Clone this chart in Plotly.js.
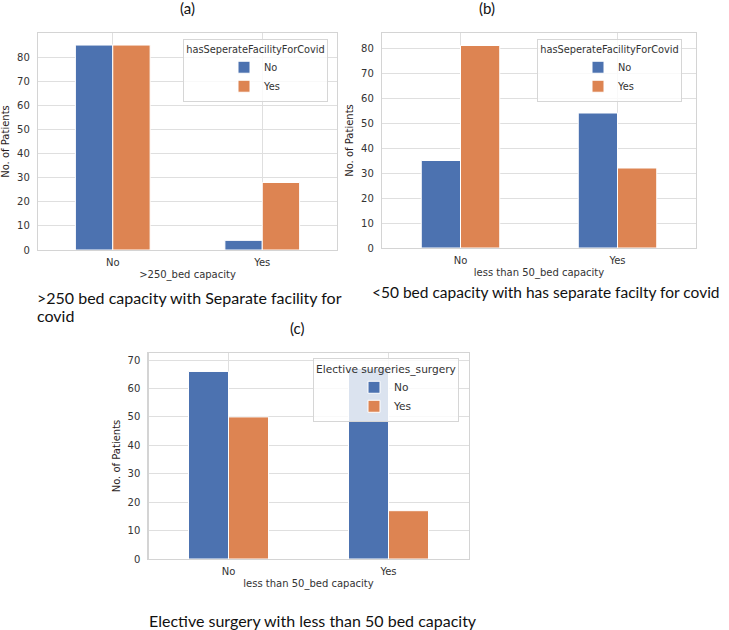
<!DOCTYPE html>
<html>
<head>
<meta charset="utf-8">
<script src="https://cdn.plot.ly/plotly-3.0.1.min.js"></script>
<style>html,body{margin:0;padding:0;background:#fff;}#chart{width:729px;height:630px;}</style>
</head>
<body>
<div id="chart"></div>
<script>
// ---- data ----
const categories = ["No", "Yes"];
const seriesNames = ["No", "Yes"];
// (a) >250 bed capacity vs hasSeperateFacilityForCovid
const aNo = [85, 4];
const aYes = [85, 28];
// (b) less than 50 bed capacity vs hasSeperateFacilityForCovid
const bNo = [35, 54];
const bYes = [81, 32];
// (c) less than 50 bed capacity vs Elective surgeries
const cNo = [66, 67];
const cYes = [50, 17];
const yTicksAB = [0, 10, 20, 30, 40, 50, 60, 70, 80];
const yTicksC = [0, 10, 20, 30, 40, 50, 60, 70];

const W = 729, H = 630;
const px = v => v / W;
const py = v => 1 - v / H;

const BLUE = "#4C72B0", ORANGE = "#DD8452";
const tickFont = {family: "DejaVu Sans", size: 10, color: "#333"};

function bar(x, y, name, color, xa, ya, leg) {
  return {type: "bar", x: x, y: y, name: name, xaxis: xa, yaxis: ya, legend: leg,
    marker: {color: color, line: {color: "#fff", width: 1}}, hoverinfo: "x+y+name"};
}

const data = [
  bar(categories, aNo, seriesNames[0], BLUE, "x", "y", "legend"),
  bar(categories, aYes, seriesNames[1], ORANGE, "x", "y", "legend"),
  bar(categories, bNo, seriesNames[0], BLUE, "x2", "y2", "legend2"),
  bar(categories, bYes, seriesNames[1], ORANGE, "x2", "y2", "legend2"),
  bar(categories, cNo, seriesNames[0], BLUE, "x3", "y3", "legend3"),
  bar(categories, cYes, seriesNames[1], ORANGE, "x3", "y3", "legend3")
];

function xax(d0, d1, anchor, title) {
  return {domain: [px(d0), px(d1)], anchor: anchor, type: "category",
    range: [-0.5, 1.5], showline: true, mirror: true, linecolor: "#d4d4d4", linewidth: 1.2,
    showgrid: true, gridcolor: "#dfdfdf", gridwidth: 1, zeroline: false,
    ticks: "outside", ticklen: 3, tickcolor: "rgba(0,0,0,0)", tickfont: tickFont,
    title: {text: title, font: {family: "DejaVu Sans", size: 10, color: "#333"}, standoff: 3},
    fixedrange: true};
}
function yax(d0, d1, anchor, range, tv) {
  return {domain: [py(d1), py(d0)], anchor: anchor, range: range, tickvals: tv,
    showline: true, mirror: true, linecolor: "#d4d4d4", linewidth: 1.2,
    showgrid: true, gridcolor: "#dfdfdf", gridwidth: 1, zeroline: false,
    ticks: "outside", ticklen: 5, tickcolor: "rgba(0,0,0,0)", tickfont: tickFont,
    title: {text: "No. of Patients", font: {family: "DejaVu Sans", size: 10, color: "#2a1c1c"}, standoff: 5},
    fixedrange: true};
}

function legend(x, y, title, fs) {
  return {x: px(x), y: py(y), xanchor: "left", yanchor: "top",
    bgcolor: "rgba(255,255,255,0.8)", bordercolor: "#d6d6d6", borderwidth: 1,
    font: {family: "DejaVu Sans", size: fs, color: "#333"},
    title: {text: title, side: "top center", font: {family: "DejaVu Sans", size: fs, color: "#333"}},
    indentation: 40, tracegroupgap: 0, itemclick: false, itemdoubleclick: false};
}

const capFont = {family: "Lato", size: 16, color: "#111"};
const capFontB = {family: "Lato", size: 15.5, color: "#111"};
const labFont = {family: "Lato", size: 15, color: "#111"};
const layout = {
  width: W, height: H, margin: {l: 0, r: 0, t: 0, b: 0},
  paper_bgcolor: "#fff", plot_bgcolor: "#fff",
  bargap: 0.5, bargroupgap: 0, barmode: "group",
  xaxis: xax(38, 337, "y", ">250_bed capacity"),
  yaxis: yax(33, 250, "x", [0, 90], yTicksAB),
  xaxis2: xax(382, 696, "y2", "less than 50_bed capacity"),
  yaxis2: yax(33, 248, "x2", [0, 86], yTicksAB),
  xaxis3: xax(148.5, 468.5, "y3", "less than 50_bed capacity"),
  yaxis3: yax(353, 559, "x3", [0, 72.5], yTicksC),
  legend: legend(183, 39, "hasSeperateFacilityForCovid", 9.8),
  legend2: legend(537, 39, "hasSeperateFacilityForCovid", 9.8),
  legend3: legend(313, 358, "Elective surgeries_surgery", 10.6),
  annotations: [
    {xref: "paper", yref: "paper", x: px(187), y: py(8), text: "(a)", showarrow: false, xanchor: "center", yanchor: "middle", font: labFont},
    {xref: "paper", yref: "paper", x: px(487), y: py(8), text: "(b)", showarrow: false, xanchor: "center", yanchor: "middle", font: labFont},
    {xref: "paper", yref: "paper", x: px(297), y: py(328), text: "(c)", showarrow: false, xanchor: "center", yanchor: "middle", font: labFont},
    {xref: "paper", yref: "paper", x: px(35), y: py(297), text: ">250 bed capacity with Separate facility for", showarrow: false, xanchor: "left", yanchor: "middle", align: "left", font: capFont},
    {xref: "paper", yref: "paper", x: px(35), y: py(315), text: "covid", showarrow: false, xanchor: "left", yanchor: "middle", align: "left", font: capFont},
    {xref: "paper", yref: "paper", x: px(370), y: py(292), text: "<50 bed capacity with has separate facilty for covid", showarrow: false, xanchor: "left", yanchor: "middle", align: "left", font: capFontB},
    {xref: "paper", yref: "paper", x: px(147), y: py(620), text: "Elective surgery with less than 50 bed capacity", showarrow: false, xanchor: "left", yanchor: "middle", align: "left", font: capFont}
  ]
};

Plotly.newPlot("chart", data, layout, {displayModeBar: false, staticPlot: true});
</script>
</body>
</html>
